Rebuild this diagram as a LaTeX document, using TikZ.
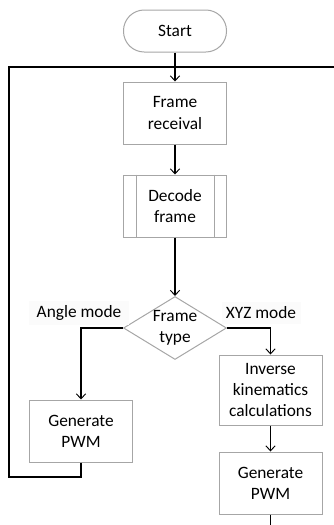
\documentclass[tikz,border=0pt]{standalone}
\usepackage{fontspec}
\setmainfont{Carlito}
\usepackage{xcolor}
\usetikzlibrary{arrows.meta, positioning, shapes.geometric}
\definecolor{boxgray}{RGB}{166,166,166}
\definecolor{labelbg}{RGB}{251,251,251}
\tikzstyle{pbox}=[rectangle, draw=boxgray, line width=0.75pt, fill=white,
  font=\fontsize{13}{15.8}\selectfont, text centered, align=center,
  minimum width=77.25pt, minimum height=46.5pt, inner sep=1pt]
\tikzstyle{term}=[pbox, rounded corners=15.5pt, minimum height=31.5pt]
\tikzstyle{decision}=[diamond, draw=boxgray, line width=0.75pt,
  minimum width=77.25pt, minimum height=47.25pt, inner sep=0pt]
\tikzstyle{lbl}=[font=\fontsize{13}{15.8}\selectfont, align=center]
\tikzstyle{conn}=[-{Straight Barb[length=3.8pt, width=7pt, line width=0.7pt]},
  line width=0.85pt]
\tikzstyle{wire}=[line width=0.85pt]

\begin{document}
\begin{tikzpicture}[x=0.75pt, y=-0.75pt]
        \useasboundingbox (0,0) rectangle (334,525);
        \node[term] (start) at (175,31) {Start};
        \node[pbox] (frm) at (175,113) {Frame\\receival};
        \node[pbox] (dec) at (175,206) {Decode\\frame};
        \draw[boxgray, line width=0.75pt]
          ([xshift=9.75pt]dec.north west) -- ([xshift=9.75pt]dec.south west)
          ([xshift=-9.75pt]dec.north east) -- ([xshift=-9.75pt]dec.south east);
        \node[decision] (typ) at (175,328) {};
        \node[lbl] (typlbl) at (typ) {Frame\\type};
        \node[pbox] (pwml) at (81,431) {Generate\\PWM};
        \node[pbox, minimum height=52.5pt] (inv) at (270.5,390)
          {Inverse\\kinematics\\calculations};
        \node[pbox] (pwmr) at (270.5,483) {Generate\\PWM};
        \node[lbl, fill=labelbg, minimum width=75pt] (angl) at (79,313) {Angle mode};
        \node[lbl, fill=labelbg] (xyzl) at (261,313) {XYZ mode};
        % loop back and free ends
        \coordinate (lpbot) at (9,477);
        \coordinate (lptop) at (9,67);
        \coordinate (rgtend) at (334,67);
        \coordinate (botend) at (270.5,525);
        \draw[wire] (pwml.south) |- (lpbot) -- (lptop) -- (rgtend);
        \draw[conn] (start)--(frm);
        \draw[conn] (frm)--(dec);
        \draw[conn] (dec)--(typ);
        \draw[conn] (typ.west) -| (pwml.north);
        \draw[conn] (typ.east) -| (inv.north);
        \draw[conn] (inv)--(pwmr);
        \draw[wire] (pwmr.south) -- (botend);
      \end{tikzpicture}
\end{document}
